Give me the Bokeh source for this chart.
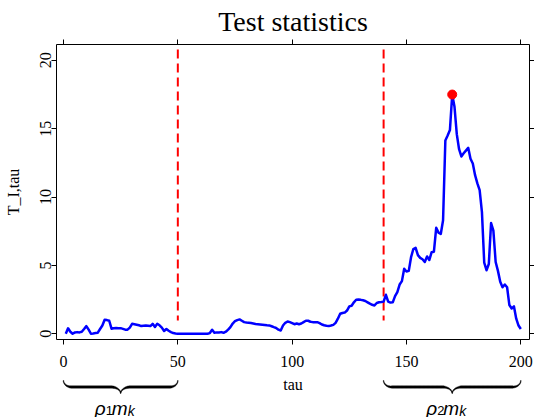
import numpy as np
from bokeh.plotting import figure
from bokeh.layouts import column
from bokeh.models import Range1d, LinearAxis, FixedTicker
from bokeh.core.properties import value
from bokeh.embed import file_html
from bokeh.resources import INLINE

# ---- data -------------------------------------------------------------
tau = list(range(1, 201))
t_stat = [
    0.00, 0.40, 0.15, 0.00, 0.10, 0.12, 0.10, 0.15, 0.35, 0.56,
    0.30, 0.00, 0.02, 0.05, 0.08, 0.35, 0.60, 1.02, 1.00, 0.95,
    0.37, 0.40, 0.42, 0.40, 0.41, 0.36, 0.30, 0.30, 0.45, 0.73,
    0.70, 0.66, 0.62, 0.56, 0.58, 0.60, 0.58, 0.56, 0.73, 0.50,
    0.73, 0.62, 0.45, 0.20, 0.35, 0.22, 0.12, 0.05, 0.02, 0.00,
    0.00, 0.00, 0.00, 0.00, 0.00, 0.00, 0.00, 0.00, 0.00, 0.00,
    0.00, 0.00, 0.00, 0.05, 0.29, 0.07, 0.10, 0.10, 0.12, 0.07,
    0.15, 0.30, 0.49, 0.75, 0.92, 1.00, 1.05, 0.95, 0.85, 0.82,
    0.80, 0.78, 0.75, 0.72, 0.70, 0.68, 0.66, 0.64, 0.62, 0.61,
    0.55, 0.48, 0.42, 0.30, 0.24, 0.60, 0.80, 0.90, 0.85, 0.78,
    0.70, 0.75, 0.70, 0.75, 0.85, 0.95, 0.95, 0.88, 0.85, 0.85,
    0.85, 0.78, 0.68, 0.62, 0.58, 0.56, 0.60, 0.65, 0.80, 1.10,
    1.46, 1.52, 1.55, 1.70, 2.00, 2.05, 2.30, 2.49, 2.50, 2.48,
    2.45, 2.40, 2.30, 2.20, 2.12, 2.07, 2.25, 2.30, 2.32, 2.35,
    2.85, 2.35, 2.28, 2.30, 2.75, 3.05, 3.60, 3.85, 4.75, 4.55,
    4.60, 5.60, 6.20, 6.29, 5.75, 5.55, 5.45, 5.25, 5.65, 5.40,
    5.97, 6.00, 7.75, 7.40, 7.30, 8.30, 14.14, 14.50, 14.90, 17.50,
    16.60, 14.60, 13.50, 12.97, 13.20, 13.40, 13.60, 12.80, 12.45, 11.60,
    11.00, 10.50, 8.90, 5.20, 4.65, 5.10, 8.10, 7.55, 5.25, 4.60,
    3.80, 3.40, 3.60, 3.40, 2.10, 1.85, 2.00, 1.10, 0.60, 0.35,
]
change_points = [50, 140]
x_ticks = [0, 50, 100, 150, 200]
y_ticks = [0, 5, 10, 15, 20]
segment_starts = [0, 140]
segment_ends = [50, 200]
segment_index = ["1", "2"]

# ---- geometry ---------------------------------------------------------
W = 534
H_MAIN, H_FOOT = 374, 43          # main panel + strip with braces below it
H_TOTAL = H_MAIN + H_FOOT
BL, BR, BT, BB = 56, 5, 44, 35
X0, X1 = -3.06, 203.8
Y0, Y1 = -0.42, 21.16
frame_w = W - BL - BR
sx = frame_w / (X1 - X0)
VLINE_TOP, VLINE_BOTTOM = 20.8, 0.97   # vertical extent of the change-point markers

SERIF = "Liberation Serif"
SANS = "Liberation Sans"

x_range = Range1d(X0, X1)
p = figure(width=W, height=H_MAIN, output_backend="svg", toolbar_location=None,
           x_range=x_range, y_range=Range1d(Y0, Y1),
           min_border_left=BL, min_border_right=BR,
           min_border_top=BT, min_border_bottom=BB)
p.xgrid.visible = False
p.ygrid.visible = False
p.outline_line_color = "black"
p.outline_line_width = 1
p.background_fill_color = "white"
p.border_fill_color = "white"


def style_axis(ax, ticks, show_labels=True):
    ax.ticker = FixedTicker(ticks=ticks)
    ax.axis_line_color = None
    ax.major_tick_line_color = "black"
    ax.major_tick_line_width = 1
    ax.major_tick_in = 0
    ax.major_tick_out = 5
    ax.minor_tick_line_color = None
    ax.major_label_text_font = SERIF
    ax.major_label_text_color = "black"
    if show_labels:
        ax.major_label_text_font_size = "16px"
    else:
        ax.major_label_text_font_size = "0px"
        ax.major_label_standoff = 0
        ax.major_label_overrides = {t: "" for t in ticks}


xa = p.xaxis[0]
style_axis(xa, x_ticks)
xa.major_label_standoff = 11

ya = p.yaxis[0]
style_axis(ya, y_ticks)
ya.major_label_orientation = "vertical"
ya.major_label_standoff = 0
ya.axis_label = "T_I,tau"
ya.axis_label_text_font = SERIF
ya.axis_label_text_font_size = "16px"
ya.axis_label_text_font_style = "normal"
ya.axis_label_text_color = "black"
ya.axis_label_standoff = 16

top_ax = LinearAxis()
style_axis(top_ax, x_ticks, show_labels=False)
p.add_layout(top_ax, "above")
right_ax = LinearAxis()
style_axis(right_ax, y_ticks, show_labels=False)
p.add_layout(right_ax, "right")

p.title.text = "Test statistics"
p.title.text_font = SERIF
p.title.text_font_size = "28px"
p.title.text_font_style = "normal"
p.title.text_color = "black"
p.title.align = "center"
p.title.standoff = 6

# change points, dashed from the top down
n_cp = len(change_points)
p.segment(x0=change_points, y0=[VLINE_TOP] * n_cp,
          x1=change_points, y1=[VLINE_BOTTOM] * n_cp,
          line_color="#FF0000", line_width=2, line_dash="9 5")

# statistic curve and its maximum
p.line(tau, t_stat, line_color="#0000FF", line_width=2.5, line_join="round")
k_max = int(np.argmax(t_stat))
p.scatter(x=[tau[k_max]], y=[t_stat[k_max]], size=9, fill_color="#FF0000",
          line_color="#FF0000")

# ---- strip under the axis: x label and curly braces -------------------
# y in this strip counts pixels upward from the bottom edge of the page
q = figure(width=W, height=H_FOOT, output_backend="svg", toolbar_location=None,
           x_range=x_range, y_range=Range1d(0, H_FOOT),
           x_axis_location=None, y_axis_location=None,
           min_border_left=BL, min_border_right=BR,
           min_border_top=0, min_border_bottom=0)
q.grid.visible = False
q.outline_line_color = None
q.background_fill_color = "white"
q.border_fill_color = "white"


def up(py):
    """page pixel row -> strip coordinate"""
    return H_TOTAL - np.asarray(py, dtype=float)


q.text(x=[(X0 + X1) / 2.0], y=[float(up(383.7))], text=["tau"], text_font=value(SERIF),
       text_font_size="16px", text_color="black", text_align="center",
       text_baseline="alphabetic")


def brace_outline(a, b, top=380.0, bar=386.5, tip=393.0, r_end=8.0, r_mid=10.0):
    pa, pb = BL + (a - X0) * sx, BL + (b - X0) * sx
    half = (pb - pa) / 2.0
    th = np.linspace(0, np.pi / 2, 24)
    xs = list(pa + r_end * (1 - np.cos(th)))
    ys = list(top + (bar - top) * np.sin(th))
    straight = np.linspace(pa + r_end, pa + half - r_mid, 40)[1:-1]
    xs += list(straight)
    ys += [bar] * len(straight)
    xs += list(pa + half - r_mid + r_mid * np.sin(th))
    ys += list(bar + (tip - bar) * (1 - np.cos(th)))
    lx, ly = np.array(xs), np.array(ys)
    cx = np.concatenate([lx, (pa + pb - lx)[::-1][1:]])
    cy = np.concatenate([ly, ly[::-1][1:]])
    f = np.abs(cx - (pa + pb) / 2.0) / half          # 1 at the ends, 0 at the cusp
    f = np.clip(np.minimum(f, 1 - f) * 8, 0, 1)
    w = 0.7 + 1.7 * f
    tx, ty = np.gradient(cx), np.gradient(cy)
    n = np.hypot(tx, ty)
    nx, ny = -ty / n, tx / n
    px = np.concatenate([cx + nx * w / 2, (cx - nx * w / 2)[::-1]])
    py = np.concatenate([cy + ny * w / 2, (cy - ny * w / 2)[::-1]])
    return list(X0 + (px - BL) / sx), list(up(py))


for a, b, idx in zip(segment_starts, segment_ends, segment_index):
    bx, by = brace_outline(a, b)
    q.patch(bx, by, fill_color="black", line_color="black", line_width=0.4)
    mid = (a + b) / 2.0
    y_main, y_sub = float(up(408.0)), float(up(410.0))
    q.text(x=[mid, mid], y=[y_main, y_main], text=["ρ", "m"], x_offset=[-26, -9],
           text_font=value(SANS), text_font_style="italic", text_font_size="19px",
           text_color="black", text_align="left", text_baseline="alphabetic")
    q.text(x=[mid], y=[y_sub], text=[idx], x_offset=[-15],
           text_font=value(SANS), text_font_size="13px",
           text_color="black", text_align="left", text_baseline="alphabetic")
    q.text(x=[mid], y=[y_sub], text=["k"], x_offset=[7],
           text_font=value(SANS), text_font_style="italic", text_font_size="14px",
           text_color="black", text_align="left", text_baseline="alphabetic")

layout = column(p, q, spacing=0)
open("out.html", "w").write(file_html(layout, INLINE))
